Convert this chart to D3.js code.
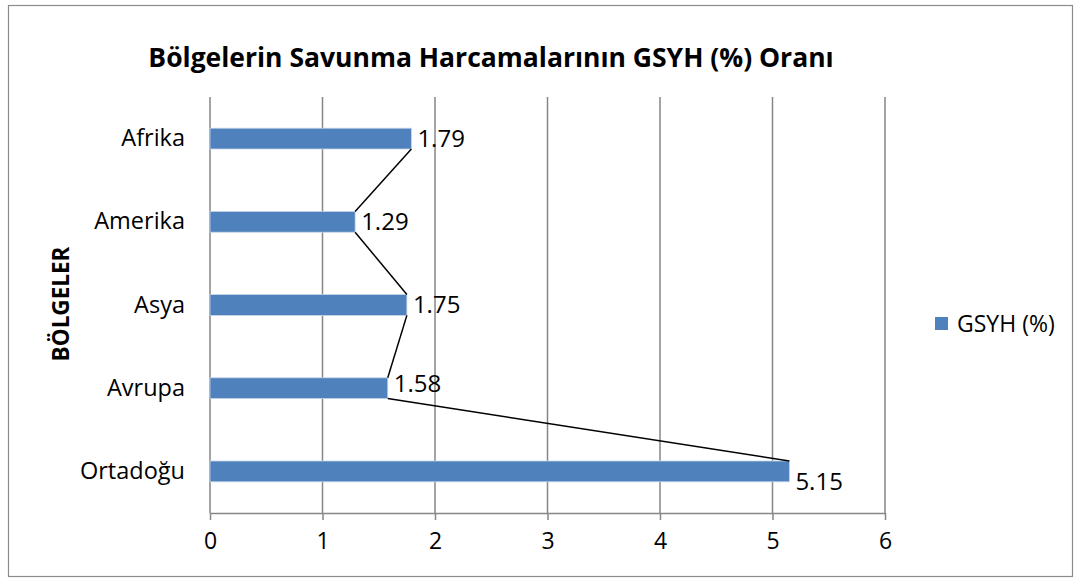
<!DOCTYPE html>
<html><head><meta charset="utf-8">
<script src="https://cdn.jsdelivr.net/npm/d3@7"></script>
<style>body{margin:0;background:#fff}svg{display:block}text{font-family:"Open Sans",sans-serif}</style>
</head><body>
<svg id="c" width="1078" height="579"></svg>
<script>
const categories = ["Afrika", "Amerika", "Asya", "Avrupa", "Ortadoğu"];
const values = [1.79, 1.29, 1.75, 1.58, 5.15];
const xTicks = [0, 1, 2, 3, 4, 5, 6];
const seriesName = "GSYH (%)";
const titleText = "Bölgelerin Savunma Harcamalarının GSYH (%) Oranı";
const yTitle = "BÖLGELER";

const svg = d3.select("#c");
const plot = {l: 210, r: 885, t: 97, b: 513};
const barColor = "#4F81BD", gridColor = "#868686";

svg.append("rect").attr("x", 8.5).attr("y", 5.5).attr("width", 1064).attr("height", 571)
  .attr("fill", "#fff").attr("stroke", "#8c8c8c").attr("stroke-width", 1.2);

const x = d3.scaleLinear().domain([0, 6]).range([plot.l, plot.r]);
const y = d3.scaleBand().domain(categories).range([plot.t, plot.b]).paddingInner(0.75).paddingOuter(0.375);

// gridlines
svg.append("g").selectAll("line").data(xTicks).join("line")
  .attr("x1", d => x(d)).attr("x2", d => x(d)).attr("y1", plot.t).attr("y2", plot.b)
  .attr("stroke", gridColor).attr("stroke-width", 1.5);

// x axis
const xa = svg.append("g").attr("transform", `translate(0,${plot.b})`)
  .call(d3.axisBottom(x).tickValues(xTicks).tickSize(7).tickSizeOuter(0).tickPadding(13).tickFormat(d3.format("d")));
xa.select(".domain").attr("stroke", gridColor).attr("stroke-width", 1.5);
xa.selectAll(".tick line").attr("stroke", gridColor).attr("stroke-width", 1.5);
xa.selectAll("text").attr("font-size", 23).attr("fill", "#000").attr("font-family", "Open Sans");

// y axis labels
const ya = svg.append("g").attr("transform", `translate(${plot.l},0)`)
  .call(d3.axisLeft(y).tickSize(0).tickPadding(25));
ya.select(".domain").remove();
ya.selectAll("text").attr("font-size", 23.5).attr("fill", "#000").attr("font-family", "Open Sans");

// bars
svg.append("g").selectAll("rect").data(values).join("rect")
  .attr("x", x(0)).attr("y", (d, i) => y(categories[i]))
  .attr("width", d => x(d) - x(0)).attr("height", y.bandwidth())
  .attr("fill", barColor).attr("stroke", "#c6d4e8").attr("stroke-width", 0.8);

// series lines: from bottom of bar end to top of next bar end
const segs = values.slice(0, -1).map((v, i) => [
  [x(v), y(categories[i]) + y.bandwidth()],
  [x(values[i + 1]), y(categories[i + 1])]
]);
svg.append("g").selectAll("line").data(segs).join("line")
  .attr("x1", d => d[0][0]).attr("y1", d => d[0][1]).attr("x2", d => d[1][0]).attr("y2", d => d[1][1])
  .attr("stroke", "#000").attr("stroke-width", 1.5);

// data labels
const labelDy = [0, 0, 0, -5, 10];
svg.append("g").selectAll("text").data(values).join("text")
  .attr("x", d => x(d) + 6).attr("y", (d, i) => y(categories[i]) + y.bandwidth() / 2 + labelDy[i])
  .attr("dy", "0.35em").attr("font-size", 24).attr("fill", "#000").text(d => d.toFixed(2));

// title
svg.append("text").attr("x", 491).attr("y", 58).attr("dy", "0.35em").attr("text-anchor", "middle")
  .attr("font-size", 26.5).attr("font-weight", "bold").text(titleText);

// y title
svg.append("text").attr("transform", "translate(61,304) rotate(-90)").attr("text-anchor", "middle")
  .attr("dy", "0.35em").attr("font-size", 22.5).attr("font-weight", "bold").text(yTitle);

// legend
const lg = svg.append("g").attr("transform", "translate(935,317)");
lg.append("rect").attr("width", 13).attr("height", 13).attr("fill", barColor);
lg.append("text").attr("x", 22).attr("y", 7).attr("dy", "0.35em").attr("font-size", 23).text(seriesName);
</script>
</body></html>
